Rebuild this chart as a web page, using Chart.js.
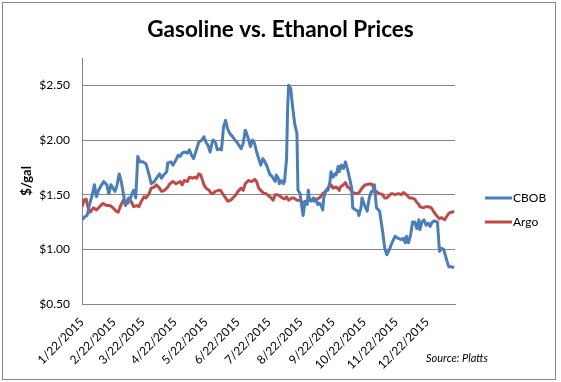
<!DOCTYPE html>
<html><head><meta charset="utf-8">
<script src="https://cdn.jsdelivr.net/npm/chart.js@4.4.0/dist/chart.umd.min.js"></script>
<style>html,body{margin:0;padding:0;background:#fff;} #wrap{position:relative;width:561px;height:382px;}</style>
</head><body><div id="wrap"><canvas id="c" width="561" height="382"></canvas></div>
<script>
const chartTitle = 'Gasoline vs. Ethanol Prices';
const yAxisTitle = '$/gal';
const sourceNote = 'Source: Platts';
const seriesNames = ['CBOB', 'Argo'];
const startDate = '1/22/2015';
const tickDates = ['1/22/2015','2/22/2015','3/22/2015','4/22/2015','5/22/2015','6/22/2015','7/22/2015','8/22/2015','9/22/2015','10/22/2015','11/22/2015','12/22/2015'];
const yTickValues = [0.5, 1.0, 1.5, 2.0, 2.5];

// days after 1/22/2015
const cbobDays = [0,3,5,7,10,12,14,16,19,21,24,26,28,30,32,34,36,38,40,42,45,46,48,50,52,54,56,59,62,65,67,70,72,75,77,79,82,83,86,88,91,93,95,97,99,102,104,106,108,111,113,116,118,120,122,124,126,127,129,131,133,135,137,139,141,143,145,148,150,152,154,156,158,159,161,163,165,167,169,171,173,175,177,179,182,183,185,187,188,190,191,193,195,196,198,199,200,202,204,206,208,209,211,212,214,216,218,219,220,222,224,225,227,228,230,232,233,234,236,238,240,241,243,245,246,248,249,251,253,255,257,259,261,262,265,267,268,270,271,274,276,278,280,282,283,285,287,288,291,293,295,298,300,303,306,309,311,313,314,316,318,320,322,324,326,327,329,331,333,335,337,339,341,344,346,348,350,353,355,358,360];
const cbobPrices = [1.27,1.30,1.31,1.40,1.50,1.59,1.48,1.54,1.59,1.62,1.59,1.51,1.59,1.56,1.53,1.59,1.69,1.62,1.51,1.40,1.47,1.44,1.50,1.54,1.47,1.85,1.80,1.80,1.78,1.68,1.60,1.62,1.65,1.69,1.65,1.68,1.71,1.79,1.80,1.77,1.82,1.86,1.85,1.88,1.89,1.88,1.91,1.86,1.83,1.92,1.98,2.00,2.03,1.98,1.95,1.89,1.98,2.00,1.98,1.91,1.92,1.91,2.12,2.18,2.10,2.06,2.04,2.00,1.98,1.95,1.92,1.97,2.09,2.07,2.01,1.94,2.00,1.97,1.89,1.83,1.77,1.83,1.80,1.76,1.68,1.68,1.65,1.62,1.68,1.65,1.60,1.63,1.60,1.62,1.83,2.29,2.50,2.47,2.29,2.14,2.06,1.54,1.51,1.44,1.31,1.44,1.41,1.54,1.47,1.44,1.47,1.44,1.45,1.41,1.42,1.39,1.36,1.47,1.54,1.54,1.62,1.71,1.66,1.69,1.68,1.76,1.71,1.77,1.74,1.80,1.73,1.65,1.56,1.38,1.36,1.35,1.31,1.38,1.47,1.39,1.35,1.47,1.53,1.53,1.59,1.38,1.36,1.35,1.16,1.01,0.95,1.01,1.06,1.12,1.10,1.09,1.10,1.06,1.12,1.06,1.13,1.25,1.25,1.19,1.27,1.18,1.25,1.27,1.22,1.24,1.21,1.25,1.26,1.25,0.98,1.01,1.00,0.90,0.84,0.84,0.83];

const argoDays = [0,2,4,6,8,11,14,17,20,24,27,30,33,35,37,40,41,44,46,48,50,53,55,57,60,62,65,67,70,72,75,77,80,83,85,88,91,95,97,99,102,104,107,109,111,113,115,118,120,123,125,127,129,132,134,136,139,141,144,146,149,151,154,156,158,161,164,166,167,169,171,174,176,178,182,183,185,187,189,191,194,196,198,200,203,205,208,211,213,216,218,221,224,227,230,233,236,238,241,243,246,249,250,253,255,257,259,261,264,267,269,271,274,275,279,281,283,286,288,291,293,295,298,300,303,306,309,311,314,317,319,322,324,326,327,330,333,335,338,340,343,346,348,351,353,355,358,360];
const argoPrices = [1.39,1.45,1.46,1.38,1.34,1.38,1.36,1.39,1.42,1.40,1.40,1.38,1.35,1.34,1.39,1.45,1.43,1.42,1.46,1.43,1.39,1.40,1.39,1.43,1.48,1.47,1.51,1.56,1.57,1.59,1.56,1.53,1.54,1.57,1.60,1.62,1.60,1.62,1.59,1.63,1.62,1.66,1.65,1.66,1.65,1.69,1.68,1.59,1.56,1.54,1.51,1.51,1.53,1.54,1.54,1.51,1.47,1.44,1.45,1.47,1.50,1.53,1.56,1.54,1.60,1.63,1.62,1.63,1.64,1.62,1.56,1.53,1.51,1.51,1.48,1.47,1.45,1.50,1.50,1.49,1.47,1.46,1.48,1.45,1.47,1.47,1.45,1.45,1.43,1.43,1.44,1.45,1.46,1.46,1.47,1.51,1.53,1.56,1.59,1.56,1.57,1.54,1.57,1.59,1.61,1.57,1.56,1.53,1.51,1.51,1.53,1.56,1.59,1.59,1.60,1.59,1.54,1.52,1.51,1.50,1.47,1.47,1.50,1.51,1.50,1.51,1.50,1.52,1.50,1.47,1.47,1.46,1.43,1.41,1.39,1.38,1.39,1.39,1.38,1.35,1.31,1.28,1.29,1.27,1.30,1.33,1.34,1.35];

const seriesColors = ['#4A7EBB', '#BE4B48'];

function dayOffset(s) {
  const [m, d, y] = s.split('/').map(Number);
  const [m0, d0, y0] = startDate.split('/').map(Number);
  return Math.round((Date.UTC(y, m - 1, d) - Date.UTC(y0, m0 - 1, d0)) / 86400000);
}
function toPoints(days, vals) { return days.map((d, i) => ({x: d, y: vals[i]})); }

const decor = {
  id: 'decor',
  beforeDraw(chart) {
    const ctx = chart.ctx;
    ctx.save();
    ctx.fillStyle = '#fff';
    ctx.fillRect(0, 0, chart.width, chart.height);
    ctx.strokeStyle = '#868686';
    ctx.lineWidth = 1;
    ctx.strokeRect(2.5, 2.5, 553, 377);
    ctx.restore();
  },
  afterDraw(chart) {
    const ctx = chart.ctx;
    ctx.save();
    chart.data.datasets.forEach((ds, i) => {
      const y = 198 + i * 24;
      ctx.strokeStyle = ds.borderColor;
      ctx.lineWidth = 3;
      ctx.beginPath();
      ctx.moveTo(485, y);
      ctx.lineTo(512, y);
      ctx.stroke();
      ctx.fillStyle = '#000';
      ctx.font = '12px Lato';
      ctx.textBaseline = 'middle';
      ctx.textAlign = 'left';
      ctx.fillText(ds.label, 513, y);
    });
    ctx.font = 'italic 11px Lato';
    ctx.fillStyle = '#000';
    ctx.textBaseline = 'middle';
    ctx.fillText(sourceNote, 426, 358);
    ctx.restore();
  }
};

new Chart(document.getElementById('c'), {
  type: 'line',
  data: {
    datasets: [
      {label: seriesNames[0], data: toPoints(cbobDays, cbobPrices), borderColor: seriesColors[0], backgroundColor: seriesColors[0], borderWidth: 3, pointRadius: 0, tension: 0, borderJoinStyle: 'round'},
      {label: seriesNames[1], data: toPoints(argoDays, argoPrices), borderColor: seriesColors[1], backgroundColor: seriesColors[1], borderWidth: 3, pointRadius: 0, tension: 0, borderJoinStyle: 'round'}
    ]
  },
  options: {
    responsive: false,
    animation: false,
    devicePixelRatio: 1,
    layout: {padding: {left: 0, right: 0, top: 4, bottom: 0}},
    plugins: {
      legend: {display: false},
      tooltip: {enabled: false},
      title: {display: true, text: chartTitle, color: '#000', font: {family: 'Lato', size: 22.5, weight: 'bold'}, padding: {top: 12, bottom: 15}}
    },
    scales: {
      x: {
        type: 'linear', min: 0, max: 361,
        grid: {display: false, drawTicks: false},
        border: {display: true, color: '#868686', width: 1},
        afterBuildTicks(ax) { ax.ticks = tickDates.map(s => ({value: dayOffset(s)})); },
        ticks: {autoSkip: false, minRotation: 45, maxRotation: 45, padding: 11, color: '#000', font: {family: 'Lato', size: 12},
          callback: (v, i) => tickDates[i]},
        afterFit(ax) { ax.height = 78; }
      },
      y: {
        min: 0.5, max: 2.75,
        grid: {color: '#868686', drawTicks: false},
        border: {display: true, color: '#868686', width: 1},
        afterBuildTicks(ax) { ax.ticks = yTickValues.map(v => ({value: v})); },
        ticks: {padding: 12, color: '#000', font: {family: 'Lato', size: 12}, callback: v => '$' + Number(v).toFixed(2)},
        title: {display: true, text: yAxisTitle, color: '#000', font: {family: 'Lato', size: 13, weight: 'bold'}, padding: {top: 19, bottom: 0}},
        afterFit(ax) { ax.width = 82; }
      },
      legendSpace: {
        position: 'right', type: 'linear', min: 0, max: 1,
        grid: {display: false, drawTicks: false},
        border: {display: false},
        ticks: {display: false},
        afterFit(ax) { ax.width = 106; }
      }
    }
  },
  plugins: [decor]
});
</script>
</body></html>
